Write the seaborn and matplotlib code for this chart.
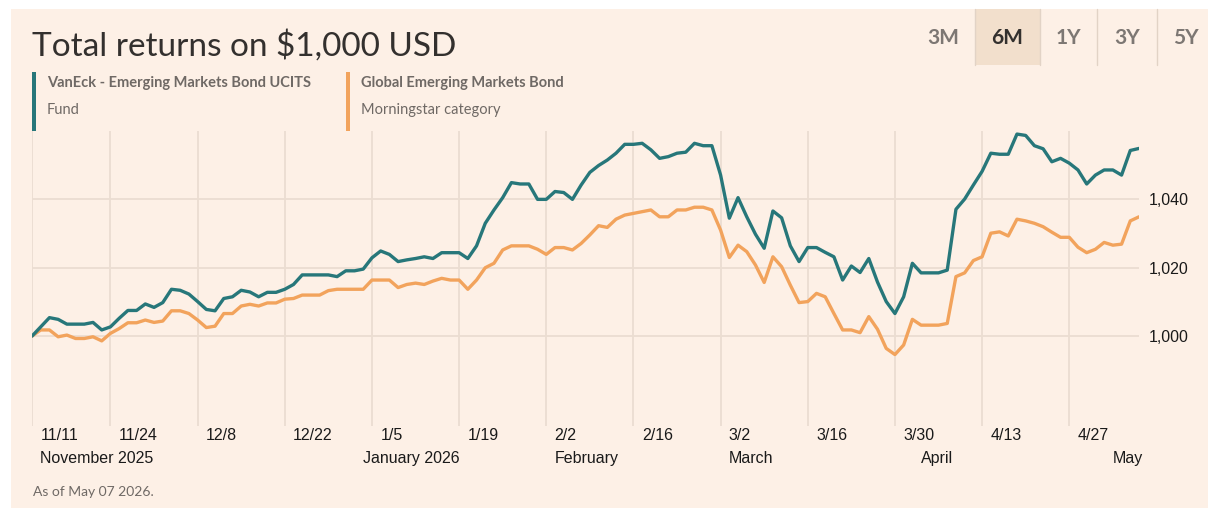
import pandas as pd
import matplotlib.pyplot as plt
import seaborn as sns
from matplotlib.patches import Rectangle
from matplotlib.lines import Line2D

# data: value of $1,000 each business day, 11 Nov 2025 -> 7 May 2026
dates = pd.bdate_range("2025-11-11", "2026-05-07")

fund = [1000.0, 1002.7, 1005.4, 1004.9, 1003.5, 1003.5, 1003.5, 1004.0, 1001.8, 1002.7,
        1005.2, 1007.5, 1007.5, 1009.4, 1008.4, 1009.8, 1013.7, 1013.4, 1012.3, 1010.1,
        1007.8, 1007.4, 1011.0, 1011.5, 1013.4, 1012.9, 1011.5, 1012.8, 1012.8, 1013.7,
        1015.1, 1017.9, 1017.9, 1017.9, 1017.9, 1017.4, 1019.1, 1019.1, 1019.6, 1022.9,
        1024.9, 1023.9, 1021.8, 1022.3, 1022.7, 1023.2, 1022.7, 1024.4, 1024.4, 1024.4,
        1022.7, 1026.4, 1033.0, 1036.9, 1040.5, 1044.9, 1044.5, 1044.5, 1040.0, 1040.0,
        1042.3, 1042.0, 1040.0, 1044.2, 1047.9, 1049.9, 1051.5, 1053.5, 1056.1, 1056.1,
        1056.4, 1054.5, 1052.0, 1052.5, 1053.5, 1053.8, 1056.4, 1055.7, 1055.7, 1047.1,
        1034.5, 1040.5, 1034.9, 1029.8, 1025.7, 1036.6, 1034.6, 1026.4, 1021.8, 1025.9,
        1025.9, 1024.5, 1023.2, 1016.4, 1020.5, 1018.6, 1022.7, 1015.8, 1010.1, 1006.6,
        1011.5, 1021.3, 1018.5, 1018.5, 1018.5, 1019.3, 1037.1, 1040.1, 1044.2, 1048.2,
        1053.5, 1053.2, 1053.2, 1059.1, 1058.7, 1055.7, 1054.8, 1051.0, 1052.0, 1050.6,
        1048.6, 1044.5, 1047.1, 1048.6, 1048.6, 1047.1, 1054.3, 1054.9]

category = [1000.0, 1001.8, 1001.8, 999.8, 1000.3, 999.3, 999.3, 999.8, 998.6, 1000.8,
            1002.2, 1003.9, 1003.9, 1004.7, 1004.0, 1004.4, 1007.4, 1007.4, 1006.6, 1004.7,
            1002.5, 1002.9, 1006.6, 1006.6, 1008.8, 1009.3, 1008.8, 1009.7, 1009.7, 1010.8,
            1011.0, 1012.0, 1012.0, 1012.0, 1013.3, 1013.7, 1013.7, 1013.7, 1013.7, 1016.4,
            1016.4, 1016.4, 1014.2, 1015.1, 1015.5, 1015.1, 1016.1, 1016.9, 1016.4, 1016.4,
            1013.7, 1016.4, 1020.0, 1021.3, 1025.2, 1026.4, 1026.4, 1026.4, 1025.4, 1023.9,
            1025.9, 1025.9, 1025.2, 1027.1, 1029.6, 1032.3, 1031.8, 1034.2, 1035.4, 1035.9,
            1036.4, 1036.9, 1034.9, 1034.9, 1036.9, 1036.9, 1037.7, 1037.7, 1036.9, 1031.0,
            1023.0, 1026.6, 1024.7, 1020.8, 1015.7, 1023.2, 1020.3, 1014.9, 1009.8, 1010.1,
            1012.5, 1011.5, 1006.6, 1001.8, 1001.8, 1001.0, 1005.7, 1002.0, 996.4, 994.6,
            997.4, 1004.9, 1003.2, 1003.2, 1003.2, 1003.7, 1017.4, 1018.5, 1022.1, 1023.2,
            1030.1, 1030.5, 1029.3, 1034.2, 1033.7, 1033.0, 1032.0, 1030.4, 1028.9, 1028.9,
            1026.0, 1024.4, 1025.4, 1027.4, 1026.6, 1026.9, 1033.7, 1034.9]

tick_dates = ["2025-11-11", "2025-11-24", "2025-12-08", "2025-12-22", "2026-01-05", "2026-01-19",
              "2026-02-02", "2026-02-16", "2026-03-02", "2026-03-16", "2026-03-30", "2026-04-13",
              "2026-04-27"]
tick_labels = ["11/11", "11/24", "12/8", "12/22", "1/5", "1/19", "2/2", "2/16", "3/2", "3/16",
               "3/30", "4/13", "4/27"]
month_dates = ["2025-11-11", "2026-01-01", "2026-02-02", "2026-03-02", "2026-04-01", "2026-05-01"]
month_labels = ["November 2025", "January 2026", "February", "March", "April", "May"]
y_ticks = [1000, 1020, 1040]
periods = ["3M", "6M", "1Y", "3Y", "5Y"]

df = pd.DataFrame({"pos": range(len(dates)), "fund": fund, "category": category})

TEAL = "#27777a"
ORANGE = "#f2a35c"
PAPER = "#fdf0e6"
GRID = "#ebddd1"
GREY = "#6f6965"

sns.set_style("white")
plt.rcParams["font.family"] = ["Liberation Sans", "DejaVu Sans"]

W, H = 1208, 508
fx = lambda x: x / W
fy = lambda y: 1 - y / H

fig = plt.figure(figsize=(W / 100, H / 100), dpi=100)
fig.patch.set_facecolor("white")
fig.patches.append(Rectangle((fx(11), 0), 1 - fx(11), fy(9), transform=fig.transFigure,
                             facecolor=PAPER, edgecolor="none", zorder=-10))

ax = fig.add_axes([fx(32), fy(426), fx(1139) - fx(32), fy(131) - fy(426)])
ax.set_facecolor("none")
ax.set_zorder(2)

sns.lineplot(data=df, x="pos", y="category", color=ORANGE, lw=2.4, ax=ax)
sns.lineplot(data=df, x="pos", y="fund", color=TEAL, lw=2.4, ax=ax)

ax.set_xlim(0, len(dates) - 1)
ax.set_ylim(973.7, 1060)
for s in ax.spines.values():
    s.set_visible(False)

tick_pos = [dates.get_loc(pd.Timestamp(d)) for d in tick_dates]
ax.set_xticks(tick_pos)
ax.set_xticklabels([])
ax.set_yticks(y_ticks)
ax.set_yticklabels([f"{v:,}" for v in y_ticks])
ax.yaxis.tick_right()
ax.tick_params(axis="y", length=0, pad=7, labelsize=11.5, labelcolor="#1a1a1a")
ax.tick_params(axis="x", length=0)
ax.grid(True, color=GRID, lw=1.3)
ax.set_axisbelow(True)
ax.set_xlabel("")
ax.set_ylabel("")

for p, lab in zip(tick_pos, tick_labels):
    ax.annotate(lab, xy=(p, 0), xycoords=("data", "axes fraction"), xytext=(6, -1.5),
                textcoords="offset points", ha="left", va="top", fontsize=11.5, color="#1a1a1a")

for d, lab in zip(month_dates, month_labels):
    p = dates.searchsorted(pd.Timestamp(d))
    ax.annotate(lab, xy=(p, 0), xycoords=("data", "axes fraction"), xytext=(6, -18),
                textcoords="offset points", ha="left", va="top", fontsize=11.5, color="#1a1a1a")

# title, legend, footnote
fig.text(fx(32), fy(46), "Total returns on $1,000 USD", fontsize=24, color="#33302e",
         family="Lato", va="center", ha="left")

for x0, col, name, sub in [(32, TEAL, "VanEck - Emerging Markets Bond UCITS", "Fund"),
                           (346, ORANGE, "Global Emerging Markets Bond", "Morningstar category")]:
    fig.patches.append(Rectangle((fx(x0), fy(131)), fx(4), fy(72) - fy(131),
                                 transform=fig.transFigure, facecolor=col, edgecolor="none"))
    fig.text(fx(x0 + 15), fy(83), name, fontsize=10.5, fontweight="bold", color=GREY,
             family="Lato", va="center", ha="left")
    fig.text(fx(x0 + 15), fy(110), sub, fontsize=10.5, color=GREY, family="Lato",
             va="center", ha="left")

fig.text(fx(33), fy(492), "As of May 07 2026.", fontsize=10, color=GREY, family="Lato",
         va="center", ha="left")

# period buttons
fig.patches.append(Rectangle((fx(975), fy(65)), fx(65), fy(9) - fy(65), transform=fig.transFigure,
                             facecolor="#f2dfcc", edgecolor="none", zorder=-5))
for xs in [975, 1040, 1097, 1157]:
    fig.lines.append(Line2D([fx(xs), fx(xs)], [fy(9), fy(65)], transform=fig.transFigure,
                            color="#e2d3c6", lw=1))
for xc, lab in zip([943, 1007, 1068, 1127, 1186], periods):
    fig.text(fx(xc), fy(38), lab, fontsize=15, fontweight="bold", family="Lato",
             color="#33302e" if lab == "6M" else "#7d7773", ha="center", va="center")

fig.savefig("out.png", dpi=100, facecolor=fig.get_facecolor())
